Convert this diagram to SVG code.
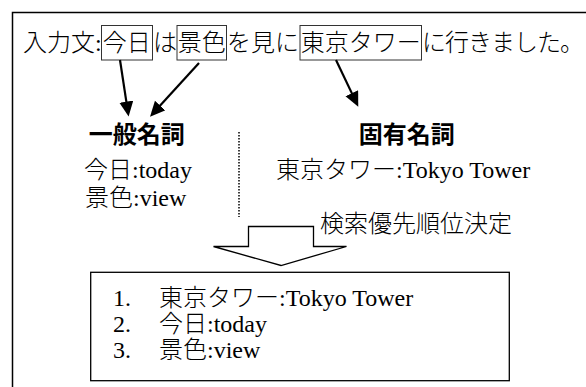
<svg xmlns="http://www.w3.org/2000/svg" width="586" height="387" viewBox="0 0 586 387">
<style>
text{font-family:"Liberation Serif","Noto Sans CJK JP",serif;font-size:24px;fill:#000;font-weight:300}
.b{font-weight:bold;font-family:"Noto Sans CJK JP","Liberation Sans",sans-serif}
.wb{fill:none;stroke:#333;stroke-width:1}
.conn{stroke:#000;stroke-width:2.2;fill:none;marker-end:url(#ah)}
</style>
<defs>
<marker id="ah" markerUnits="userSpaceOnUse" markerWidth="16" markerHeight="15" refX="3" refY="7" orient="auto" viewBox="0 0 16 15">
<path d="M0,0 L15,7 L0,14 z" fill="#000"/>
</marker>
</defs>
<rect width="586" height="387" fill="#fff"/>
<g id="frame">
<path d="M12.5,387 V12.5 H586" fill="none" stroke="#000" stroke-width="1.5"/>
</g>
<g id="input">
<text x="23" y="51">入力文:</text>
<rect class="wb" x="101.5" y="25.5" width="51" height="34.5"/>
<text x="102.8" y="51">今日</text>
<text x="153" y="51">は</text>
<rect class="wb" x="177" y="25.5" width="49.5" height="34.5"/>
<text x="177.8" y="51">景色</text>
<text x="227" y="51">を見に</text>
<rect class="wb" x="300" y="25.5" width="121.5" height="34.5"/>
<text x="300.8" y="51">東京タワー</text>
<text x="422" y="51" textLength="162" lengthAdjust="spacing">に行きました。</text>
</g>
<g id="general">
<text class="b" x="136.7" y="142.5" text-anchor="middle">一般名詞</text>
<text x="84" y="177.5">今日:today</text>
<text x="85" y="205.5">景色:view</text>
</g>
<g id="proper">
<text class="b" x="406.7" y="143" text-anchor="middle">固有名詞</text>
<text x="276" y="177.5">東京タワー:Tokyo Tower</text>
</g>
<g id="divider">
<line x1="239" y1="132" x2="239" y2="217" stroke="#000" stroke-width="1.5" stroke-dasharray="1.5 1.5"/>
</g>
<g id="priority">
<polygon points="248.5,226.5 313.5,226.5 313.5,246.5 346.5,246.5 281,265.5 213.5,246.5 248.5,246.5" fill="#fff" stroke="#000" stroke-width="1.3"/>
<text x="320" y="232">検索優先順位決定</text>
</g>
<g id="result">
<rect x="90.7" y="272.3" width="418.6" height="108.4" fill="none" stroke="#000" stroke-width="1.3"/>
<text x="113" y="305.5">1.</text>
<text x="159" y="305.5">東京タワー:Tokyo Tower</text>
<text x="113" y="332">2.</text>
<text x="159" y="332">今日:today</text>
<text x="113" y="358">3.</text>
<text x="159" y="358">景色:view</text>
</g>
<g id="connectors">
<line class="conn" x1="120" y1="60" x2="126.8" y2="104.6"/>
<line class="conn" x1="199" y1="63" x2="158.1" y2="107.8"/>
<line class="conn" x1="336" y1="60" x2="353.1" y2="95.9"/>
</g>
</svg>
